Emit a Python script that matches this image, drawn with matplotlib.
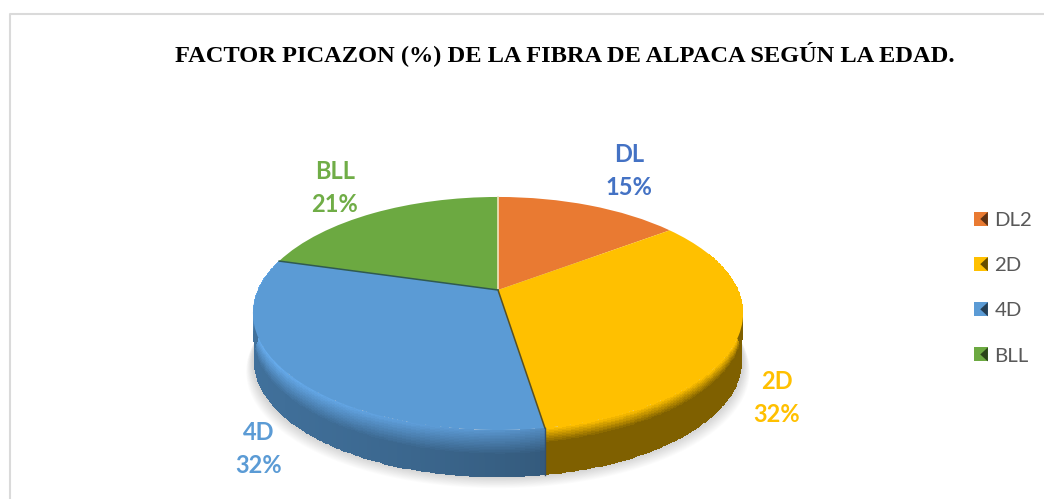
"""
    Factor picazon - pastel 3D
"""
import matplotlib
matplotlib.use("Agg")
import matplotlib.pyplot as plt
from matplotlib.legend_handler import HandlerPatch
from matplotlib.patches import Polygon, Rectangle
from matplotlib.transforms import Transform
import numpy as np

categorias = ["DL2", "2D", "4D", "BLL"]
valores = [14.8, 32.7, 31.9, 20.6]
etiquetas = ["DL\n15%", "2D\n32%", "4D\n32%", "BLL\n21%"]
titulo = "FACTOR PICAZON (%) DE LA FIBRA DE ALPACA SEGÚN LA EDAD."

colores = ["#E97A32", "#FFC000", "#5B9BD5", "#6CA941"]
colores_etiqueta = ["#4472C4", "#FFC000", "#5B9BD5", "#70AD47"]

# perspectiva del disco, en pixeles
CX, CY = 498, 290
AX_X, AX_Y, K = 240, 111.8, 0.2017
ALTO = 47


class Perspectiva(Transform):
    input_dims = 2
    output_dims = 2
    is_affine = False

    def transform_non_affine(self, xy):
        xy = np.asarray(xy, dtype=float)
        w = 1 + K * xy[:, 1]
        return np.column_stack([CX + AX_X * xy[:, 0] / w, CY - AX_Y * xy[:, 1] / w])


class CuadroBisel(HandlerPatch):
    # cuadrito de la leyenda con la muesca oscura a la derecha
    def create_artists(self, legend, orig_handle, xdescent, ydescent, width, height, fontsize, trans):
        c = orig_handle.get_facecolor()
        r = Rectangle((-xdescent, -ydescent), width, height, facecolor=c, lw=0, transform=trans)
        x0, y0 = -xdescent, -ydescent
        t = Polygon([(x0 + width, y0), (x0 + width, y0 + height), (x0 + width * 0.45, y0 + height * 0.5)],
                    facecolor=mezcla(c[:3], "#000000", 0.6), lw=0, transform=trans)
        return [r, t]


def borde(ang):
    # ang en grados, horario desde arriba
    t = np.radians(ang)
    u, v = np.sin(t), np.cos(t)
    w = 1 + K * v
    return CX + AX_X * u / w, CY - AX_Y * v / w


def mezcla(c1, c2, f):
    a = np.array(matplotlib.colors.to_rgb(c1))
    b = np.array(matplotlib.colors.to_rgb(c2))
    return a + (b - a) * f


fig = plt.figure(figsize=(10.44, 4.99), dpi=100)
ax = fig.add_axes([0, 0, 1, 1])

# sombra
ang = np.linspace(0, 360, 200)
x, y = borde(ang)
for i in range(14):
    esc = 1.0 + 0.002 * (14 - i)
    ax.fill(CX + (x - CX) * esc, y + ALTO + (14 - i) * 0.8, color="#000000", alpha=0.011, lw=0, zorder=1)

tramos = np.cumsum([0] + valores) / sum(valores) * 360

# costado
rim_claro = {"#FFC000": "#FFC000", "#5B9BD5": "#68AEF0"}
rim_oscuro = {"#FFC000": "#7F6000", "#5B9BD5": "#41719C"}
for i, c in enumerate(colores):
    if c not in rim_claro:
        continue
    a0, a1 = max(tramos[i], 70), min(tramos[i + 1], 290)
    ang = np.linspace(a0, a1, 120)
    x, y = borde(ang)
    prof = np.linspace(0, 1, 31)
    X = np.array([x + (CX - x) * 0.004 * p for p in prof])
    Y = np.array([y + ALTO * p for p in prof])
    C = np.zeros((len(prof) - 1, len(ang) - 1, 3))
    for j in range(len(prof) - 1):
        p = prof[j]
        if c == "#FFC000":
            f = min(p / 0.3, 1)
        else:
            f = min(p / 0.5, 1)
        for n in range(len(ang) - 1):
            base = mezcla(rim_claro[c], rim_oscuro[c], f)
            if c == "#5B9BD5":
                # mas oscuro hacia el frente derecho
                base = base * (1 - 0.2 * (1 - n / (len(ang) - 1)) ** 3)
            C[j, n] = base
    ax.pcolormesh(X, Y, C, shading="flat", zorder=2)

# tapa
wedges, _ = ax.pie(valores, colors=colores, startangle=90, counterclock=False,
                   wedgeprops={"linewidth": 0}, frame=False)
for w in wedges:
    w.set_transform(Perspectiva() + ax.transData)
    w.set_zorder(3)

# lineas entre rebanadas
x0, y0 = borde(0)
ax.plot([CX, x0], [CY, y0], color="#F2E6C0", lw=1.2, zorder=4)
for a, c in zip(tramos[2:4], ["#5A5020", "#2F5A50"]):
    xa, ya = borde(a)
    ax.plot([CX, xa], [CY, ya], color=c, lw=1.1, zorder=4)
xs, ys = borde(tramos[2])
ax.plot([xs, xs], [ys, ys + ALTO], color="#34506E", lw=1, zorder=4)

ax.set_xlim(0, 1044)
ax.set_ylim(499, 0)
ax.set_aspect("auto")
ax.axis("off")

# marco
ax.plot([10, 10, 1044], [499, 14, 14], color="#DADADA", lw=1.5, zorder=0)

ax.text(564.5, 54, titulo, family="Liberation Serif", weight="bold", fontsize=17.6,
        color="black", ha="center", va="center")

pos_etiqueta = [(629, 171), (777, 398), (259, 449), (335, 188)]
for (px, py), txt, c in zip(pos_etiqueta, etiquetas, colores_etiqueta):
    ax.text(px, py, txt, family="Lato", weight="bold", fontsize=17, color=c,
            ha="center", va="center", linespacing=1.55)

ax.legend(wedges, categorias, loc="upper left", bbox_to_anchor=(974 / 1044, 1 - 212 / 499),
          frameon=False, prop={"family": "Lato", "size": 14.7}, labelcolor="#595959",
          handlelength=0.68, handleheight=0.68, handletextpad=0.32, labelspacing=1.37,
          borderpad=0, borderaxespad=0, handler_map={w: CuadroBisel() for w in wedges})

fig.savefig("out.png", dpi=100)
